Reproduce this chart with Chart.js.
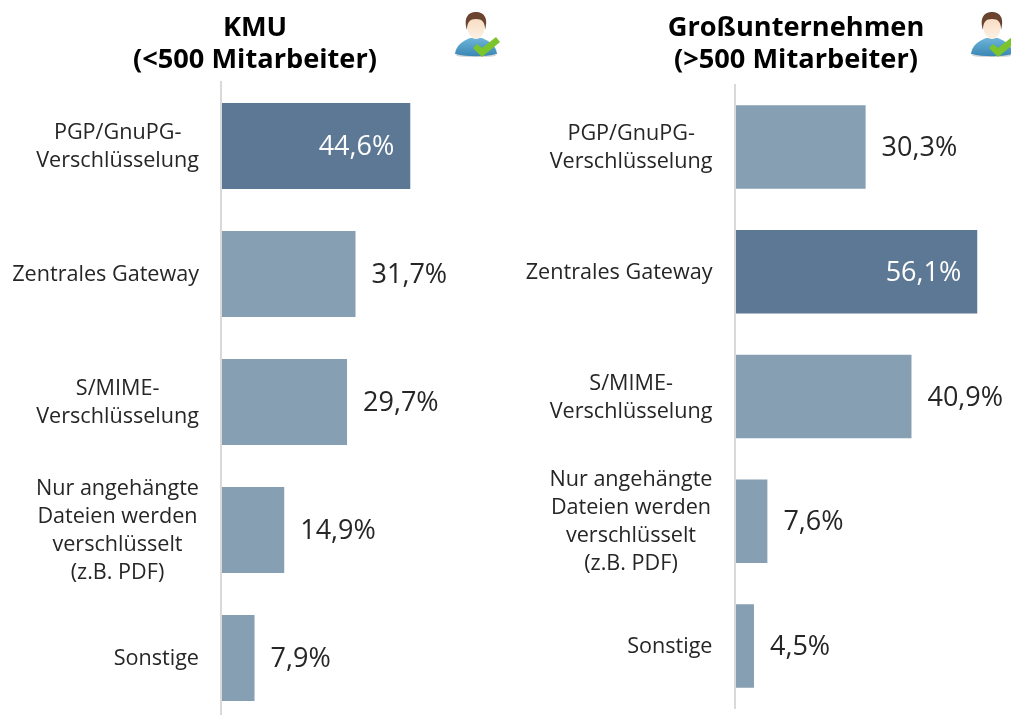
<!DOCTYPE html>
<html lang="de">
<head>
<meta charset="utf-8">
<title>Verschlüsselung KMU / Großunternehmen</title>
<script src="https://cdn.jsdelivr.net/npm/chart.js@4"></script>
<style>
  html, body { margin: 0; padding: 0; background: #fff; width: 1011px; height: 715px; overflow: hidden; }
  canvas { position: absolute; top: 0; }
  #chart1 { left: 0; }
  #chart2 { left: 510px; }
  .title { position: absolute; top: 10px; width: 340px; text-align: center; font: bold 27.2px/32px "Open Sans", sans-serif; color: #000; }
  .icon { position: absolute; top: 10px; width: 48px; height: 48px; }
</style>
</head>
<body>
<canvas id="chart1"></canvas>
<canvas id="chart2"></canvas>
<div class="title" style="left:85px">KMU<br>(&lt;500 Mitarbeiter)</div>
<div class="title" style="left:626px">Großunternehmen<br>(&gt;500 Mitarbeiter)</div>

<svg class="icon" style="left:454px" viewBox="0 0 48 48"><use href="#user"/></svg>
<svg class="icon" style="left:970px" viewBox="0 0 48 48">
  <defs>
    <linearGradient id="shirt" x1="0" y1="0" x2="0" y2="1">
      <stop offset="0" stop-color="#6db4d8"/>
      <stop offset="1" stop-color="#3a86b4"/>
    </linearGradient>
    <linearGradient id="face" x1="0" y1="0" x2="0" y2="1">
      <stop offset="0" stop-color="#f8d9bc"/>
      <stop offset="1" stop-color="#fdf1e6"/>
    </linearGradient>
    <g id="user">
      <ellipse cx="22" cy="45.5" rx="20" ry="1.6" fill="#bbb" opacity=".6"/>
      <path d="M1 44 C2 35 9 31 16 28 L28 28 C35 31 42 35 43 44 C30 47 14 47 1 44 Z" fill="url(#shirt)"/>
      <ellipse cx="22" cy="17" rx="8.5" ry="12" fill="url(#face)"/>
      <path d="M13 20 C9 7 15 2 22 2 C29 2 35 7 31 20 C31 12 28 9 22 9 C16 9 13 12 13 20 Z" fill="#6b4430"/>
      <path d="M19 38 L23 34 L28 38 L42 27 L46 32 L28 47 Z" fill="#7cc42c"/>
    </g>
  </defs>
  <use href="#user"/>
</svg>

<script>
const categories = [
  ["PGP/GnuPG-", "Verschlüsselung"],
  ["Zentrales Gateway"],
  ["S/MIME-", "Verschlüsselung"],
  ["Nur angehängte", "Dateien werden", "verschlüsselt", "(z.B. PDF)"],
  ["Sonstige"],
];
const kmuValues = [44.6, 31.7, 29.7, 14.9, 7.9];
const grossValues = [30.3, 56.1, 40.9, 7.6, 4.5];

const DARK = "#5c7894";
const LIGHT = "#879fb2";
const TEXT = "#262626";

function formatValue(v) {
  return v.toFixed(1).replace(".", ",") + "%";
}

// labels have centred lines but a right aligned block, ticks can't do that
const barText = {
  id: "barText",
  afterDatasetsDraw(chart) {
    const { ctx, scales } = chart;
    const y = scales.y;
    const values = chart.data.datasets[0].data;
    const top = Math.max(...values);
    ctx.save();
    ctx.textBaseline = "middle";

    ctx.font = '21.6px "Open Sans", sans-serif';
    ctx.fillStyle = TEXT;
    ctx.textAlign = "center";
    chart.data.labels.forEach((lines, i) => {
      const w = Math.max(...lines.map((l) => ctx.measureText(l).width));
      const cx = chart.chartArea.left - 22 - w / 2;
      const cy = y.getPixelForValue(i);
      lines.forEach((l, n) => {
        ctx.fillText(l, cx, cy + (n - (lines.length - 1) / 2) * 28 + 1);
      });
    });

    ctx.font = '27px "Open Sans", sans-serif';
    chart.getDatasetMeta(0).data.forEach((bar, i) => {
      const inside = values[i] === top;
      ctx.fillStyle = inside ? "#fff" : TEXT;
      ctx.textAlign = inside ? "right" : "left";
      ctx.fillText(formatValue(values[i]), bar.x + (inside ? -16 : 16), bar.y + 1.5);
    });
    ctx.restore();
  },
};

function makeChart(id, values, width, height, padding, xMax) {
  const canvas = document.getElementById(id);
  canvas.width = width;
  canvas.height = height;
  const top = Math.max(...values);
  return new Chart(canvas, {
    type: "bar",
    data: {
      labels: categories,
      datasets: [{
        data: values,
        backgroundColor: values.map((v) => (v === top ? DARK : LIGHT)),
        barPercentage: 0.67,
        categoryPercentage: 1,
      }],
    },
    options: {
      indexAxis: "y",
      responsive: false,
      animation: false,
      layout: { padding },
      plugins: { legend: { display: false }, tooltip: { enabled: false } },
      scales: {
        x: { display: false, min: 0, max: xMax },
        y: {
          grid: { display: false },
          ticks: { display: false },
          border: { display: true, color: "#d9d9d9", width: 2, z: 1 },
          afterFit(scale) { scale.width = 0; },
        },
      },
    },
    plugins: [barText],
  });
}

makeChart("chart1", kmuValues, 510, 730, { left: 221, top: 82, bottom: 8, right: 0 }, 68.1);
makeChart("chart2", grossValues, 501, 730, { left: 224.5, top: 84.6, bottom: 21.6, right: 0 }, 63.9);
</script>
</body>
</html>
